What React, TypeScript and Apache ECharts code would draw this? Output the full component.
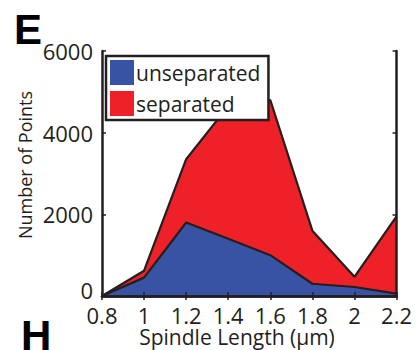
import React, { useEffect, useRef } from "react";
import * as echarts from "echarts";

// Spindle length bins (µm)
const categories = ["0.8", "1", "1.2", "1.4", "1.6", "1.8", "2", "2.2"];
// Point counts per bin, stacked: unseparated at the bottom, separated on top
const unseparated = [0, 450, 1800, 1400, 1000, 300, 220, 60];
const separated = [0, 170, 1550, 3250, 3800, 1300, 250, 1890];
const yTicks = [0, 2000, 4000, 6000];

const INK = "#231f20";
const BLUE = "#3953a4";
const RED = "#ed2127";
const FONT = "'Open Sans', sans-serif";

export default function App() {
  const ref = useRef<HTMLDivElement>(null);

  useEffect(() => {
    if (!ref.current) return;
    const chart = echarts.init(ref.current, undefined, { renderer: "svg" });

    const frameLine = { show: true, lineStyle: { color: INK, width: 2.5 } };
    const inTicks = { show: true, inside: true, length: 4, lineStyle: { color: INK, width: 1.5 } };

    chart.setOption({
      animation: false,
      grid: { left: 102, top: 51, right: 16, bottom: 54 },
      legend: {
        orient: "vertical",
        left: 106,
        top: 56,
        padding: [4, 8, 4, 4],
        itemWidth: 24,
        itemHeight: 25,
        itemGap: 6,
        backgroundColor: "#fff",
        borderColor: INK,
        borderWidth: 2.5,
        borderRadius: 0,
        icon: "rect",
        textStyle: { fontFamily: FONT, fontSize: 21, color: INK, padding: [0, 0, 0, -3] },
        data: [
          { name: "unseparated", itemStyle: { color: BLUE, borderWidth: 0 } },
          { name: "separated", itemStyle: { color: RED, borderWidth: 0 } },
        ],
      },
      xAxis: [
        {
          type: "category",
          data: categories,
          boundaryGap: false,
          z: 5,
          axisLine: frameLine,
          axisTick: { ...inTicks, alignWithLabel: true },
          axisLabel: { color: INK, fontFamily: FONT, fontSize: 22, lineHeight: 18, margin: 10 },
        },
        {
          type: "category",
          data: categories,
          boundaryGap: false,
          position: "top",
          z: 5,
          axisLine: frameLine,
          axisTick: inTicks,
          axisLabel: { show: false },
        },
      ],
      yAxis: [
        {
          type: "value",
          min: 0,
          max: 6000,
          interval: 2000,
          z: 5,
          axisLine: frameLine,
          axisTick: inTicks,
          splitLine: { show: false },
          axisLabel: {
            color: INK,
            fontFamily: FONT,
            fontSize: 22,
            lineHeight: 18,
            margin: 9,
            customValues: yTicks,
            // the zero label sits a little higher so it clears "0.8"
            formatter: (v: number) => (v === 0 ? "{z|0}" : String(v)),
            rich: {
              z: { fontFamily: FONT, fontSize: 22, lineHeight: 18, color: INK, padding: [0, 0, 12, 0] },
            },
          },
        },
        {
          type: "value",
          min: 0,
          max: 6000,
          interval: 2000,
          position: "right",
          z: 5,
          axisLine: frameLine,
          axisTick: inTicks,
          splitLine: { show: false },
          axisLabel: { show: false },
        },
      ],
      series: [
        {
          name: "unseparated",
          type: "line",
          stack: "total",
          data: unseparated,
          symbol: "none",
          color: BLUE,
          lineStyle: { color: INK, width: 2.2 },
          areaStyle: { color: BLUE, opacity: 1 },
        },
        {
          name: "separated",
          type: "line",
          stack: "total",
          data: separated,
          symbol: "none",
          color: RED,
          lineStyle: { color: INK, width: 2.2 },
          areaStyle: { color: RED, opacity: 1 },
        },
      ],
      graphic: [
        {
          type: "text",
          left: 14,
          top: 8,
          style: { text: "E", fontFamily: "'Liberation Sans', Arial, sans-serif", fontWeight: "bold", fontSize: 42, fill: "#000" },
        },
        {
          type: "text",
          left: 21,
          top: 314,
          style: { text: "H", fontFamily: "'Liberation Sans', Arial, sans-serif", fontWeight: "bold", fontSize: 42, lineHeight: 36, fill: "#000" },
        },
        {
          type: "text",
          x: 25,
          y: 165,
          rotation: Math.PI / 2,
          style: {
            text: "Number of Points",
            fontFamily: FONT,
            fontSize: 18,
            fill: INK,
            align: "center",
            verticalAlign: "middle",
          },
        },
        {
          type: "text",
          x: 237,
          y: 337,
          style: {
            text: "Spindle Length (\u03bcm)",
            fontFamily: FONT,
            fontSize: 21,
            lineHeight: 20,
            fill: INK,
            align: "center",
            verticalAlign: "middle",
          },
        },
      ],
    });

    return () => chart.dispose();
  }, []);

  return <div ref={ref} style={{ width: 415, height: 350, position: "absolute", left: 0, top: 0 }} />;
}
